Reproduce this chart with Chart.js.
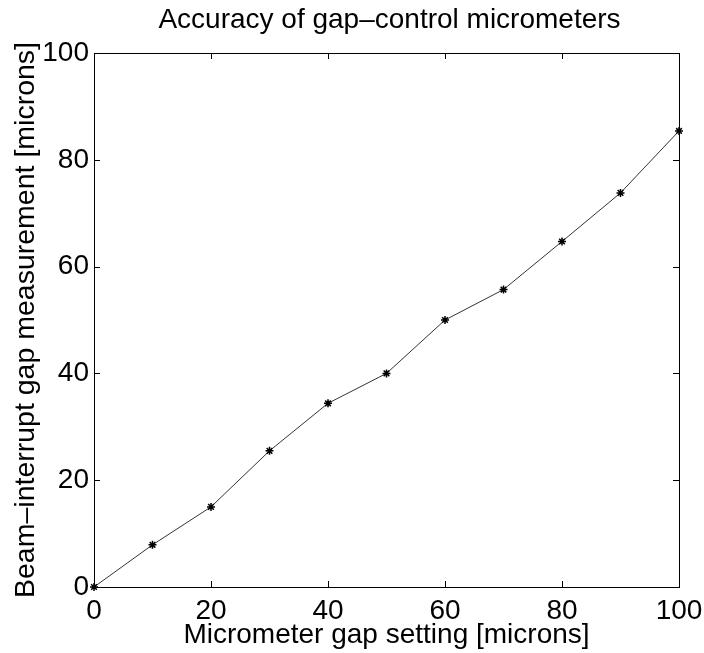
<!DOCTYPE html>
<html>
<head>
<meta charset="utf-8">
<script src="https://cdn.jsdelivr.net/npm/chart.js@4/dist/chart.umd.min.js"></script>
<style>
  html, body { margin: 0; padding: 0; background: #fff; }
  #wrap { width: 704px; height: 653px; }
</style>
</head>
<body>
<div id="wrap"><canvas id="gapChart"></canvas></div>
<script>
// micrometer setting vs beam-interrupt measurement (microns)
const gapSetting = [0, 10, 20, 30, 40, 50, 60, 70, 80, 90, 100];
const measuredGap = [0, 7.9, 15.0, 25.5, 34.4, 40.0, 50.0, 55.7, 64.7, 73.8, 85.4];
const tickValues = [0, 20, 40, 60, 80, 100];

const chartTitle = 'Accuracy of gap\u2013control micrometers';
const xTitle = 'Micrometer gap setting [microns]';
const yTitle = 'Beam\u2013interrupt gap measurement [microns]';

const FONT = "'Liberation Sans', Arial, sans-serif";

// MATLAB-style box with inward ticks on all four sides + title
const boxPlugin = {
  id: 'matlabBox',
  afterDraw(chart) {
    const { ctx, chartArea: a, scales } = chart;
    const len = 6;
    ctx.save();
    ctx.strokeStyle = '#000';
    ctx.lineWidth = 1;
    ctx.strokeRect(a.left + 0.5, a.top + 0.5, a.right - a.left, a.bottom - a.top);
    ctx.beginPath();
    tickValues.forEach(v => {
      const px = Math.round(scales.x.getPixelForValue(v)) + 0.5;
      ctx.moveTo(px, a.bottom); ctx.lineTo(px, a.bottom - len);
      ctx.moveTo(px, a.top); ctx.lineTo(px, a.top + len);
      const py = Math.round(scales.y.getPixelForValue(v)) + 0.5;
      ctx.moveTo(a.left, py); ctx.lineTo(a.left + len, py);
      ctx.moveTo(a.right, py); ctx.lineTo(a.right - len, py);
    });
    ctx.stroke();

    ctx.fillStyle = '#000';
    ctx.font = '28px ' + FONT;
    ctx.textAlign = 'center';
    ctx.textBaseline = 'alphabetic';
    ctx.fillText(chartTitle, (a.left + a.right) / 2 + 3, 28);
    ctx.restore();
  }
};

new Chart(document.getElementById('gapChart'), {
  type: 'line',
  data: {
    datasets: [{
      data: gapSetting.map((x, i) => ({ x, y: measuredGap[i] })),
      borderColor: '#333',
      borderWidth: 1,
      pointStyle: 'star',
      pointRadius: 4,
      pointBorderColor: '#000',
      pointBorderWidth: 1.5,
      tension: 0,
      clip: false
    }]
  },
  options: {
    responsive: true,
    maintainAspectRatio: false,
    animation: false,
    layout: { padding: { top: 53, right: 25, left: 0, bottom: 0 } },
    plugins: {
      legend: { display: false },
      tooltip: { enabled: false }
    },
    scales: {
      x: {
        type: 'linear',
        min: 0,
        max: 100,
        grid: { display: false, drawTicks: false },
        border: { display: false },
        ticks: {
          stepSize: 20,
          padding: 7,
          color: '#000',
          font: { family: FONT, size: 28 }
        },
        title: {
          display: true,
          text: xTitle,
          color: '#000',
          font: { family: FONT, size: 28 },
          padding: { top: 0, bottom: 1 }
        },
        afterFit: (scale) => {
          scale.height = 66;
          scale.paddingLeft = 0;
          scale.paddingRight = 0;
        }
      },
      y: {
        min: 0,
        max: 100,
        grid: { display: false, drawTicks: false },
        border: { display: false },
        ticks: {
          stepSize: 20,
          padding: 5,
          color: '#000',
          font: { family: FONT, size: 28 }
        },
        title: {
          display: true,
          text: yTitle,
          color: '#000',
          font: { family: FONT, size: 28.5 },
          padding: { top: 9, bottom: 0 }
        },
        afterFit: (scale) => {
          scale.width = 94;
          scale.paddingTop = 0;
          scale.paddingBottom = 0;
        }
      }
    }
  },
  plugins: [boxPlugin]
});
</script>
</body>
</html>
